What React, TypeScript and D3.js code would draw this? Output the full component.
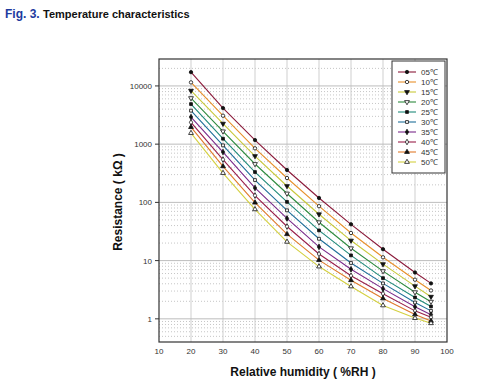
import React, { useEffect, useRef } from 'react';
import * as d3 from 'd3';

// relative humidity (%RH) sample points
const humidity = [20, 30, 40, 50, 60, 70, 80, 90, 95];
const xTicks = [10, 20, 30, 40, 50, 60, 70, 80, 90, 100];
const yTicks = [1, 10, 100, 1000, 10000];

// resistance (kOhm) per temperature
const temps = ['05℃', '10℃', '15℃', '20℃', '25℃', '30℃', '35℃', '40℃', '45℃', '50℃'];
const r05 = [17250, 4160, 1175, 360, 119, 42, 15.7, 6.25, 4.06];
const r10 = [11500, 3080, 848, 262, 86, 29.8, 11.4, 4.7, 3.07];
const r15 = [8270, 2250, 625, 191, 62.5, 22.1, 8.7, 3.64, 2.4];
const r20 = [6180, 1660, 456, 142, 45.6, 16.3, 6.6, 2.87, 1.97];
const r25 = [4880, 1240, 332, 102, 33, 12.3, 5.0, 2.33, 1.63];
const r30 = [3760, 953, 242, 73, 23.7, 9.1, 4.06, 1.91, 1.37];
const r35 = [2920, 732, 177, 53, 17.2, 7.1, 3.3, 1.61, 1.18];
const r40 = [2370, 543, 131, 38.5, 13, 5.5, 2.7, 1.37, 1.06];
const r45 = [1960, 416, 99, 28.4, 10.2, 4.6, 2.24, 1.19, 0.92];
const r50 = [1550, 319, 76, 21, 7.9, 3.6, 1.7, 1.03, 0.84];

const seriesValues = [r05, r10, r15, r20, r25, r30, r35, r40, r45, r50];
const colors = ['#8b1a3a', '#e8902a', '#c8c83a', '#2e8b3e', '#1f8a7a', '#1f6f9a', '#7a2a8a', '#9a1f4a', '#e07a2a', '#d4d040'];
// marker shape and whether it is filled
const markers = [
  { shape: 'circle', fill: true },
  { shape: 'circle', fill: false },
  { shape: 'down', fill: true },
  { shape: 'down', fill: false },
  { shape: 'square', fill: true },
  { shape: 'square', fill: false },
  { shape: 'diamond', fill: true },
  { shape: 'diamond', fill: false },
  { shape: 'up', fill: true },
  { shape: 'up', fill: false },
];

const FONT = '"Liberation Sans", Arial, sans-serif';

const App = () => {
  const svgRef = useRef<SVGSVGElement>(null);

  useEffect(() => {
    const svg = d3.select(svgRef.current);
    svg.selectAll('*').remove();

    const left = 159, right = 447, top = 59, bottom = 342;

    const x = d3.scaleLinear().domain([10, 100]).range([left, right]);
    const y = d3.scaleLog().domain([0.4, 29000]).range([bottom, top]);

    svg.append('rect').attr('width', 481).attr('height', 389).attr('fill', '#fff');

    // title
    const title = svg.append('text').attr('x', 5).attr('y', 18)
      .attr('font-family', FONT).attr('font-weight', 'bold');
    title.append('tspan').attr('fill', '#1d3a9e').attr('font-size', 12).text('Fig. 3. ');
    title.append('tspan').attr('fill', '#111').attr('font-size', 11).text('Temperature characteristics');

    const grid = svg.append('g');
    // minor horizontal dotted lines
    const minors: number[] = [];
    [0.1, 1, 10, 100, 1000, 10000].forEach((d) => {
      for (let k = 2; k <= 9; k++) {
        const v = d * k;
        if (v > 0.4 && v < 29000) minors.push(v);
      }
    });
    grid.selectAll('.minor').data(minors).enter().append('line')
      .attr('x1', left).attr('x2', right)
      .attr('y1', (d) => y(d)).attr('y2', (d) => y(d))
      .attr('stroke', '#b8b8b8').attr('stroke-width', 0.8).attr('stroke-dasharray', '1,2');
    // major lines
    grid.selectAll('.vx').data(xTicks.slice(1, -1)).enter().append('line')
      .attr('x1', (d) => x(d)).attr('x2', (d) => x(d))
      .attr('y1', top).attr('y2', bottom)
      .attr('stroke', '#cfcfcf').attr('stroke-width', 1);
    grid.selectAll('.hy').data(yTicks).enter().append('line')
      .attr('x1', left).attr('x2', right)
      .attr('y1', (d) => y(d)).attr('y2', (d) => y(d))
      .attr('stroke', '#bdbdbd').attr('stroke-width', 1);

    // frame
    svg.append('rect').attr('x', left).attr('y', top)
      .attr('width', right - left).attr('height', bottom - top)
      .attr('fill', 'none').attr('stroke', '#333').attr('stroke-width', 1.2);

    // y ticks and labels
    const yAxis = svg.append('g');
    yAxis.selectAll('line').data(yTicks).enter().append('line')
      .attr('x1', left - 4).attr('x2', left)
      .attr('y1', (d) => y(d)).attr('y2', (d) => y(d))
      .attr('stroke', '#333');
    yAxis.selectAll('text').data(yTicks).enter().append('text')
      .attr('x', left - 7).attr('y', (d) => y(d) + 3)
      .attr('text-anchor', 'end').attr('font-size', 8).attr('font-family', FONT)
      .attr('fill', '#333').text((d) => String(d));

    // x labels
    svg.append('g').selectAll('text').data(xTicks).enter().append('text')
      .attr('x', (d) => x(d)).attr('y', bottom + 12)
      .attr('text-anchor', 'middle').attr('font-size', 8).attr('font-family', FONT)
      .attr('fill', '#333').text((d) => String(d));

    // axis titles
    svg.append('text').attr('x', 303).attr('y', 376)
      .attr('text-anchor', 'middle').attr('font-size', 12).attr('font-weight', 'bold')
      .attr('font-family', FONT).attr('fill', '#111').text('Relative humidity ( %RH )');
    svg.append('text').attr('transform', 'translate(122,202) rotate(-90)')
      .attr('text-anchor', 'middle').attr('font-size', 12).attr('font-weight', 'bold')
      .attr('font-family', FONT).attr('fill', '#111').text('Resistance ( kΩ )');

    const symbolFor = (shape: string) => {
      if (shape === 'circle') return d3.symbol().type(d3.symbolCircle).size(9)();
      if (shape === 'square') return d3.symbol().type(d3.symbolSquare).size(8)();
      if (shape === 'diamond') return d3.symbol().type(d3.symbolDiamond).size(9)();
      return d3.symbol().type(d3.symbolTriangle).size(10)();
    };
    const drawMarker = (g: any, m: { shape: string; fill: boolean }, cx: number, cy: number) => {
      const rot = m.shape === 'down' ? ' rotate(180)' : '';
      g.append('path').attr('d', symbolFor(m.shape))
        .attr('transform', `translate(${cx},${cy})${rot}`)
        .attr('fill', m.fill ? '#111' : '#fff')
        .attr('stroke', '#111').attr('stroke-width', 0.8);
    };

    const line = d3.line<number>().x((_, i) => x(humidity[i])).y((d) => y(d));

    const plot = svg.append('g');
    seriesValues.forEach((vals, s) => {
      plot.append('path').datum(vals).attr('d', line)
        .attr('fill', 'none').attr('stroke', colors[s]).attr('stroke-width', 1.1);
    });
    seriesValues.forEach((vals, s) => {
      vals.forEach((v, i) => drawMarker(plot, markers[s], x(humidity[i]), y(v)));
    });

    // legend
    const lg = svg.append('g');
    lg.append('rect').attr('x', 392).attr('y', 61).attr('width', 53).attr('height', 112)
      .attr('fill', '#fff').attr('stroke', '#333').attr('stroke-width', 1);
    temps.forEach((t, s) => {
      const ly = 72 + s * 10;
      lg.append('line').attr('x1', 398).attr('x2', 416).attr('y1', ly).attr('y2', ly)
        .attr('stroke', colors[s]).attr('stroke-width', 1.1);
      drawMarker(lg, markers[s], 407, ly);
      lg.append('text').attr('x', 421).attr('y', ly + 3)
        .attr('font-size', 8).attr('font-family', FONT).attr('fill', '#333').text(t);
    });
  }, []);

  return (
    <svg ref={svgRef} width={481} height={389}
      style={{ position: 'absolute', left: 0, top: 0, display: 'block' }} />
  );
};

export default App;
